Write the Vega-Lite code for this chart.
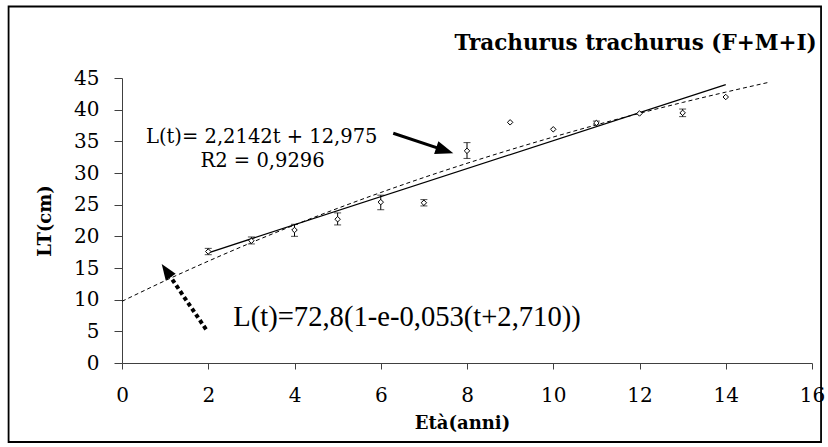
{
  "$schema": "https://vega.github.io/schema/vega-lite/v6.json",
  "width": 690,
  "height": 285,
  "autosize": "none",
  "padding": {"left": 122, "top": 78, "right": 16, "bottom": 84},
  "background": "white",
  "config": {
    "view": {"stroke": null},
    "axis": {
      "grid": false,
      "labelFont": "DejaVu Serif",
      "labelFontSize": 20,
      "labelColor": "black",
      "domainColor": "#404040",
      "tickColor": "#404040",
      "domainWidth": 1,
      "tickWidth": 1,
      "titleFont": "DejaVu Serif",
      "titleFontWeight": "bold",
      "titleFontSize": 18,
      "titleColor": "black"
    },
    "axisX": {
      "tickCount": 8,
      "tickSize": 6,
      "labelPadding": 32,
      "labelBaseline": "alphabetic",
      "labelFlush": false,
      "titleX": 340,
      "titleY": 65,
      "titleBaseline": "alphabetic",
      "titleAlign": "center"
    },
    "axisY": {
      "tickCount": 9,
      "tickSize": 8,
      "labelPadding": 15,
      "labelBaseline": "middle",
      "titleX": -77,
      "titleY": 142.5,
      "titleAngle": -90,
      "titleBaseline": "middle",
      "titleAlign": "center"
    }
  },
  "datasets": {
    "obs": [
      {"x": 2, "y": 17.6, "lo": 17.1, "hi": 18.1},
      {"x": 3, "y": 19.3, "lo": 18.8, "hi": 19.9},
      {"x": 4, "y": 21.0, "lo": 20.0, "hi": 21.9},
      {"x": 5, "y": 22.7, "lo": 21.8, "hi": 23.7},
      {"x": 6, "y": 25.4, "lo": 24.2, "hi": 26.5},
      {"x": 7, "y": 25.3, "lo": 24.8, "hi": 25.8},
      {"x": 8, "y": 33.5, "lo": 32.3, "hi": 34.8},
      {"x": 9, "y": 38.0, "lo": null, "hi": null},
      {"x": 10, "y": 36.9, "lo": null, "hi": null},
      {"x": 11, "y": 37.9, "lo": 37.6, "hi": 38.2},
      {"x": 12, "y": 39.4, "lo": null, "hi": null},
      {"x": 13, "y": 39.5, "lo": 38.9, "hi": 40.1},
      {"x": 14, "y": 42.0, "lo": null, "hi": null}
    ],
    "trend": [
      {"x": 2, "y": 17.40},
      {"x": 14, "y": 43.97}
    ],
    "vb": [
      {"x": 0, "y": 9.74},
      {"x": 1, "y": 13.00},
      {"x": 2, "y": 16.08},
      {"x": 3, "y": 19.01},
      {"x": 4, "y": 21.79},
      {"x": 5, "y": 24.42},
      {"x": 6, "y": 26.92},
      {"x": 7, "y": 29.29},
      {"x": 8, "y": 31.53},
      {"x": 9, "y": 33.66},
      {"x": 10, "y": 35.68},
      {"x": 11, "y": 37.60},
      {"x": 12, "y": 39.42},
      {"x": 13, "y": 41.14},
      {"x": 14, "y": 42.77},
      {"x": 15, "y": 44.32}
    ]
  },
  "layer": [
    {
      "data": {"name": "vb"},
      "mark": {"type": "line", "color": "black", "strokeWidth": 1, "strokeDash": [4, 3], "interpolate": "monotone"},
      "encoding": {
        "x": {"field": "x", "type": "quantitative", "scale": {"domain": [0, 16], "nice": false}, "title": "Età(anni)"},
        "y": {"field": "y", "type": "quantitative", "scale": {"domain": [0, 45], "nice": false}, "title": "LT(cm)"}
      }
    },
    {
      "data": {"name": "trend"},
      "mark": {"type": "line", "color": "black", "strokeWidth": 1.3},
      "encoding": {
        "x": {"field": "x", "type": "quantitative", "scale": {"domain": [0, 16], "nice": false}, "title": "Età(anni)"},
        "y": {"field": "y", "type": "quantitative", "scale": {"domain": [0, 45], "nice": false}, "title": "LT(cm)"}
      }
    },
    {
      "data": {"name": "obs"},
      "transform": [{"filter": "datum.lo != null"}],
      "mark": {"type": "rule", "color": "black", "strokeWidth": 1},
      "encoding": {
        "x": {"field": "x", "type": "quantitative", "scale": {"domain": [0, 16], "nice": false}, "title": "Età(anni)"},
        "y": {"field": "lo", "type": "quantitative", "scale": {"domain": [0, 45], "nice": false}, "title": "LT(cm)"},
        "y2": {"field": "hi"}
      }
    },
    {
      "data": {"name": "obs"},
      "transform": [{"filter": "datum.lo != null"}],
      "mark": {"type": "tick", "orient": "horizontal", "color": "black", "size": 7, "thickness": 1},
      "encoding": {
        "x": {"field": "x", "type": "quantitative", "scale": {"domain": [0, 16], "nice": false}, "title": "Età(anni)"},
        "y": {"field": "lo", "type": "quantitative", "scale": {"domain": [0, 45], "nice": false}, "title": "LT(cm)"}
      }
    },
    {
      "data": {"name": "obs"},
      "transform": [{"filter": "datum.hi != null"}],
      "mark": {"type": "tick", "orient": "horizontal", "color": "black", "size": 7, "thickness": 1},
      "encoding": {
        "x": {"field": "x", "type": "quantitative", "scale": {"domain": [0, 16], "nice": false}, "title": "Età(anni)"},
        "y": {"field": "hi", "type": "quantitative", "scale": {"domain": [0, 45], "nice": false}, "title": "LT(cm)"}
      }
    },
    {
      "data": {"name": "obs"},
      "mark": {"type": "point", "shape": "diamond", "size": 30, "filled": false, "fill": "white", "fillOpacity": 1, "stroke": "black", "strokeWidth": 1, "opacity": 1},
      "encoding": {
        "x": {"field": "x", "type": "quantitative", "scale": {"domain": [0, 16], "nice": false}, "title": "Età(anni)"},
        "y": {"field": "y", "type": "quantitative", "scale": {"domain": [0, 45], "nice": false}, "title": "LT(cm)"}
      }
    },
    {
      "data": {"values": [{"label": "Trachurus trachurus (F+M+I)", "px": 16.11, "py": 49.42}]},
      "mark": {"type": "text", "font": "DejaVu Serif", "fontSize": 21.5, "fontWeight": "bold", "align": "right", "baseline": "alphabetic", "color": "black", "clip": false},
      "encoding": {
        "x": {"field": "px", "type": "quantitative", "scale": {"domain": [0, 16], "nice": false}, "title": "Età(anni)"},
        "y": {"field": "py", "type": "quantitative", "scale": {"domain": [0, 45], "nice": false}, "title": "LT(cm)"},
        "text": {"field": "label"}
      }
    },
    {
      "data": {"values": [{"label": "L(t)= 2,2142t + 12,975", "px": 3.24, "py": 34.7}, {"label": "R2 = 0,9296", "px": 3.26, "py": 31.0}]},
      "mark": {"type": "text", "font": "DejaVu Serif", "fontSize": 19.5, "align": "center", "baseline": "alphabetic", "color": "black"},
      "encoding": {
        "x": {"field": "px", "type": "quantitative", "scale": {"domain": [0, 16], "nice": false}, "title": "Età(anni)"},
        "y": {"field": "py", "type": "quantitative", "scale": {"domain": [0, 45], "nice": false}, "title": "LT(cm)"},
        "text": {"field": "label"}
      }
    },
    {
      "data": {"values": [{"label": "L(t)=72,8(1-e-0,053(t+2,710))", "px": 2.58, "py": 5.84}]},
      "mark": {"type": "text", "font": "Liberation Serif", "fontSize": 28.6, "align": "left", "baseline": "alphabetic", "color": "black"},
      "encoding": {
        "x": {"field": "px", "type": "quantitative", "scale": {"domain": [0, 16], "nice": false}, "title": "Età(anni)"},
        "y": {"field": "py", "type": "quantitative", "scale": {"domain": [0, 45], "nice": false}, "title": "LT(cm)"},
        "text": {"field": "label"}
      }
    },
    {
      "data": {"values": [{"x1": 6.29, "y1": 36.27, "x2": 7.485, "y2": 33.57}]},
      "mark": {"type": "rule", "color": "black", "strokeWidth": 3},
      "encoding": {
        "x": {"field": "x1", "type": "quantitative", "scale": {"domain": [0, 16], "nice": false}, "title": "Età(anni)"},
        "y": {"field": "y1", "type": "quantitative", "scale": {"domain": [0, 45], "nice": false}, "title": "LT(cm)"},
        "x2": {"field": "x2"},
        "y2": {"field": "y2"}
      }
    },
    {
      "data": {"values": [{"x1": 1.948, "y1": 5.32, "x2": 1.025, "y2": 14.59}]},
      "mark": {"type": "rule", "color": "black", "strokeWidth": 4, "strokeDash": [4, 3]},
      "encoding": {
        "x": {"field": "x1", "type": "quantitative", "scale": {"domain": [0, 16], "nice": false}, "title": "Età(anni)"},
        "y": {"field": "y1", "type": "quantitative", "scale": {"domain": [0, 45], "nice": false}, "title": "LT(cm)"},
        "x2": {"field": "x2"},
        "y2": {"field": "y2"}
      }
    },
    {
      "data": {"values": [{"px": 7.485, "py": 33.57, "ang": 18.4, "sz": 324}, {"px": 1.025, "py": 14.59, "ang": 235.8, "sz": 256}]},
      "mark": {"type": "point", "shape": "M1,0L-1,-0.75L-1,0.75Z", "filled": true, "color": "black", "opacity": 1, "strokeWidth": 0},
      "encoding": {
        "x": {"field": "px", "type": "quantitative", "scale": {"domain": [0, 16], "nice": false}, "title": "Età(anni)"},
        "y": {"field": "py", "type": "quantitative", "scale": {"domain": [0, 45], "nice": false}, "title": "LT(cm)"},
        "angle": {"field": "ang", "type": "quantitative", "scale": null},
        "size": {"field": "sz", "type": "quantitative", "scale": null}
      }
    },
    {
      "data": {"values": [{"xl": -2.63, "xr": 16.21, "yt": 56.29, "yb": -12.47}]},
      "mark": {"type": "rect", "fill": null, "stroke": "black", "strokeWidth": 1.8, "clip": false},
      "encoding": {
        "x": {"field": "xl", "type": "quantitative", "scale": {"domain": [0, 16], "nice": false}, "title": "Età(anni)"},
        "x2": {"field": "xr"},
        "y": {"field": "yt", "type": "quantitative", "scale": {"domain": [0, 45], "nice": false}, "title": "LT(cm)"},
        "y2": {"field": "yb"}
      }
    }
  ]
}
